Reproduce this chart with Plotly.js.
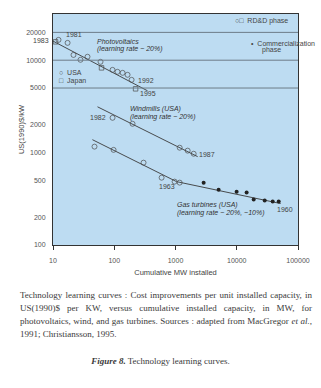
<!DOCTYPE html>
<html>
<head>
<meta charset="utf-8">
<script src="https://cdn.plot.ly/plotly-3.0.1.min.js"></script>
<style>
  html, body { margin: 0; padding: 0; background: #ffffff; }
  #wrap { position: relative; width: 321px; height: 388px; overflow: hidden; }
  #chart { position: absolute; left: 0; top: 0; width: 321px; height: 388px; }
  #caption { position: absolute; left: 20px; top: 289px; width: 292px; font-family: "Liberation Serif", "DejaVu Serif", serif; font-size: 9px; line-height: 13px; color: #3a3a3a; }
  #caption .l { text-align: justify; text-align-last: justify; white-space: nowrap; }
  #caption .last { text-align: left; }
  #fig { position: absolute; left: 0; width: 321px; top: 356px; text-align: center; font-family: "Liberation Serif", "DejaVu Serif", serif; font-size: 9px; color: #3a3a3a; }
</style>
</head>
<body>
<div id="wrap">
  <div id="chart"></div>
  <div id="caption">
    <div class="l">Technology learning curves : Cost improvements per unit installed capacity, in</div>
    <div class="l">US(1990)$ per KW, versus cumulative installed capacity, in MW, for</div>
    <div class="l">photovoltaics, wind, and gas turbines. Sources : adapted from MacGregor <i>et al.</i>,</div>
    <div class="last">1991; Christiansson, 1995.</div>
  </div>
  <div id="fig"><b><i>Figure 8.</i></b> Technology learning curves.</div>
</div>
<script>
// ---------- data ----------
const pvUsaX = [12.3, 17.3, 21.6, 28.1, 36.6, 59.7, 93.8, 113, 137, 165, 192];
const pvUsaY = [16600, 15400, 11400, 10100, 10900, 9600, 7860, 7490, 7300, 6950, 6130];
const pvJapanX = [11.0, 62, 223];
const pvJapanY = [15800, 8260, 4900];
const pvLineX = [10, 350];
const pvLineY = [16100, 4660];

const windX = [93.8, 199, 1170, 1580, 1980];
const windY = [2380, 2050, 1130, 1050, 972];
const windLineX = [53.3, 2300];
const windLineY = [3130, 904];

const gasRddX = [47.6, 97.5, 301, 593, 966, 1170];
const gasRddY = [1160, 1070, 778, 535, 485, 473];
const gasComX = [2880, 5060, 9950, 14500, 18900, 28600, 38600, 48400];
const gasComY = [473, 397, 378, 369, 310, 303, 295, 295];
const gasLineX = [44, 1040, 52000];
const gasLineY = [1380, 485, 281];

const gridValues = [5000, 10000, 20000];
const xTicks = [10, 100, 1000, 10000, 100000];
const xTickText = ["10", "100", "1000", "10000", "100000"];
const yTicks = [100, 200, 500, 1000, 2000, 5000, 10000, 20000];
const yTickText = ["100", "200", "500", "1000", "2000", "5000", "10000", "20000"];

// ---------- styles ----------
const ink = "#3a3a3a";
const font = "Liberation Sans, Arial, sans-serif";
const openMarker = (sym, s) => ({symbol: sym, size: s, color: "#4a4a4a", line: {color: "#4a4a4a", width: 0.7}});

const traces = [
  {x: pvLineX, y: pvLineY, mode: "lines", line: {color: ink, width: 0.9}},
  {x: pvUsaX, y: pvUsaY, mode: "markers", marker: openMarker("circle-open", 5)},
  {x: pvJapanX, y: pvJapanY, mode: "markers", marker: openMarker("square-open", 4.5)},
  {x: windLineX, y: windLineY, mode: "lines", line: {color: ink, width: 0.9}},
  {x: windX, y: windY, mode: "markers", marker: openMarker("circle-open", 5)},
  {x: gasLineX, y: gasLineY, mode: "lines", line: {color: ink, width: 0.9}},
  {x: gasRddX, y: gasRddY, mode: "markers", marker: openMarker("circle-open", 5)},
  {x: gasComX, y: gasComY, mode: "markers", marker: {symbol: "circle", size: 4, color: "#222"}}
];

const tf = {family: font, size: 7, color: "#444"};
const itf = {family: font, size: 7, color: "#333", style: "italic"};
function ann(text, x, y, opts) {
  return Object.assign({xref: "paper", yref: "paper", x: x, y: y, text: text, showarrow: false,
    xanchor: "left", yanchor: "middle", font: tf}, opts || {});
}

const annotations = [
  ann("Photovoltaics", 0.171, 0.883, {font: itf}),
  ann("(learning rate ~ 20%)", 0.171, 0.848, {font: itf}),
  ann("○  USA", 0.016, 0.745),
  ann("□  Japan", 0.016, 0.710),
  ann("1981", 0.045, 0.913),
  ann("1983", -0.008, 0.887, {xanchor: "right"}),
  ann("1992", 0.339, 0.714),
  ann("1995", 0.345, 0.654),
  ann("Windmills (USA)", 0.306, 0.589, {font: itf}),
  ann("(learning rate ~ 20%)", 0.306, 0.554, {font: itf}),
  ann("1982", 0.224, 0.550, {xanchor: "right"}),
  ann("1987", 0.588, 0.390),
  ann("1963", 0.465, 0.255, {xanchor: "center"}),
  ann("Gas turbines (USA)", 0.498, 0.173, {font: itf}),
  ann("(learning rate ~ 20%, ~10%)", 0.498, 0.139, {font: itf}),
  ann("1960", 0.905, 0.152),
  ann("○□  RD&D phase", 0.735, 0.970),
  ann("•  Commercialization", 0.80, 0.874),
  ann("phase", 0.845, 0.844)
];

const shapes = gridValues.map(v => ({type: "line", xref: "paper", yref: "y", x0: 0, x1: 1, y0: v, y1: v,
  line: {color: "#6d7c88", width: 1}}));

const layout = {
  width: 321, height: 388,
  margin: {l: 53, r: 23, t: 14, b: 143},
  paper_bgcolor: "rgba(0,0,0,0)",
  plot_bgcolor: "#bddcf2",
  showlegend: false,
  font: {family: font, size: 7, color: "#444"},
  xaxis: {type: "log", range: [1, 5], tickvals: xTicks, ticktext: xTickText,
    showgrid: false, zeroline: false, showline: true, linecolor: "#333", linewidth: 1, mirror: true,
    ticks: "outside", ticklen: 4, tickcolor: "#333", tickfont: {family: font, size: 7, color: "#555"},
    ticklabelstandoff: 5,
    title: {text: "Cumulative MW installed", font: {family: font, size: 7.5, color: "#444"}, standoff: 6}},
  yaxis: {type: "log", range: [2, 4.5], tickvals: yTicks, ticktext: yTickText,
    showgrid: false, zeroline: false, showline: true, linecolor: "#333", linewidth: 1, mirror: true,
    ticks: "", tickfont: {family: font, size: 7, color: "#555"}, ticklabelstandoff: 5,
    title: {text: "US(1990)$/kW", font: {family: font, size: 7.5, color: "#444"}, standoff: 0}},
  annotations: annotations,
  shapes: shapes
};

Plotly.newPlot("chart", traces, layout, {displayModeBar: false, staticPlot: true});
</script>
</body>
</html>
